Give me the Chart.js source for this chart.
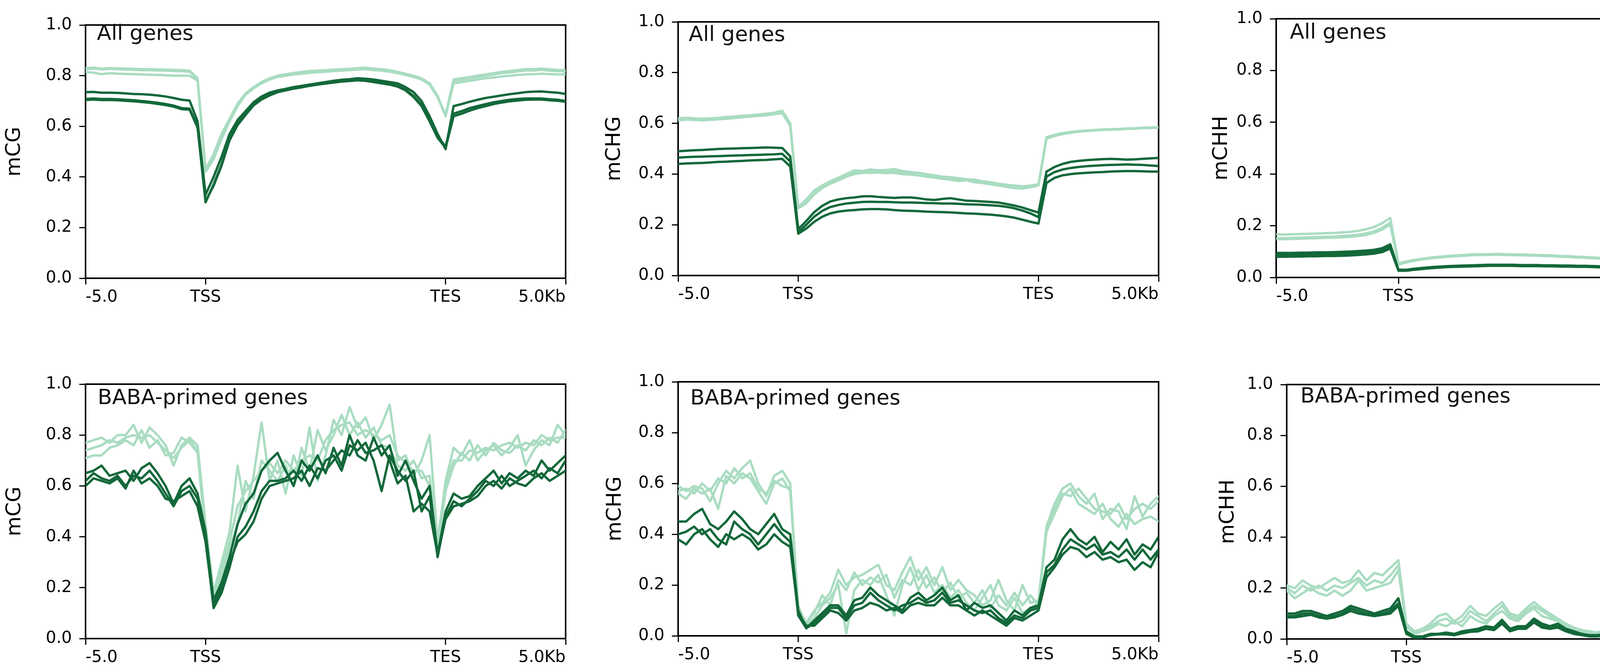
<!DOCTYPE html>
<html><head><meta charset="utf-8">
<script src="https://cdn.jsdelivr.net/npm/chart.js@4.4.1/dist/chart.umd.min.js"></script>
<style>
html,body{margin:0;padding:0;background:#fff;}
#fig{position:relative;width:4550px;height:1717px;overflow:hidden;background:#fff;}
#fig canvas{position:absolute;}
.lab{position:absolute;font-family:'DejaVu Sans',sans-serif;font-size:54px;line-height:1;color:#111;white-space:nowrap;}
.leg{position:absolute;height:6px;width:99px;}
</style></head><body><div id="fig"></div>
<script>
// ---------- axis labels ----------
const xTickPos = [0, 25, 75, 100];
const xTickLabels = ['-5.0', 'TSS', 'TES', '5.0Kb'];
const seriesNames = ['BABA', 'CTR'];
const yLabels = ['mCG', 'mCHG', 'mCHH', 'mCG', 'mCHG', 'mCHH'];
const panelTitles = ['All genes', 'All genes', 'All genes', 'BABA-primed genes', 'BABA-primed genes', 'BABA-primed genes'];

// ---------- data: 61 bins (-5kb .. TSS .. scaled body .. TES .. +5kb) ----------
// Top-left: mCG, all genes
const mcgAllCTR1 = [0.830,0.832,0.828,0.830,0.829,0.828,0.827,0.826,0.826,0.825,0.824,0.823,0.822,0.820,0.790,0.430,0.490,0.570,0.630,0.690,0.730,0.755,0.775,0.790,0.800,0.806,0.811,0.815,0.818,0.820,0.822,0.824,0.826,0.827,0.830,0.832,0.828,0.826,0.822,0.815,0.808,0.800,0.790,0.770,0.720,0.645,0.785,0.790,0.795,0.800,0.805,0.810,0.815,0.818,0.822,0.826,0.826,0.828,0.825,0.823,0.822];
const mcgAllCTR2 = [0.815,0.812,0.806,0.810,0.808,0.807,0.806,0.805,0.804,0.803,0.802,0.800,0.800,0.800,0.780,0.420,0.470,0.550,0.620,0.680,0.725,0.750,0.770,0.785,0.795,0.800,0.805,0.808,0.811,0.814,0.816,0.818,0.820,0.822,0.824,0.826,0.822,0.820,0.816,0.810,0.803,0.795,0.785,0.765,0.715,0.640,0.770,0.775,0.780,0.785,0.790,0.793,0.797,0.800,0.803,0.805,0.806,0.808,0.806,0.805,0.805];
const mcgAllCTR3 = [0.826,0.828,0.825,0.827,0.826,0.824,0.823,0.822,0.822,0.821,0.820,0.819,0.818,0.816,0.786,0.425,0.485,0.565,0.626,0.686,0.727,0.752,0.772,0.787,0.797,0.803,0.808,0.812,0.815,0.817,0.819,0.821,0.823,0.824,0.827,0.829,0.825,0.823,0.819,0.812,0.805,0.797,0.787,0.767,0.717,0.642,0.780,0.785,0.790,0.795,0.800,0.805,0.810,0.813,0.817,0.821,0.821,0.823,0.820,0.818,0.817];
const mcgAllBABA1 = [0.735,0.736,0.733,0.733,0.732,0.730,0.728,0.727,0.725,0.722,0.718,0.712,0.705,0.702,0.620,0.330,0.400,0.480,0.570,0.625,0.660,0.695,0.718,0.733,0.742,0.748,0.755,0.760,0.765,0.770,0.775,0.780,0.784,0.786,0.790,0.788,0.785,0.780,0.775,0.770,0.755,0.735,0.700,0.640,0.570,0.510,0.680,0.688,0.697,0.705,0.712,0.717,0.722,0.727,0.731,0.735,0.737,0.738,0.735,0.733,0.728];
const mcgAllBABA2 = [0.708,0.710,0.708,0.708,0.707,0.705,0.703,0.700,0.697,0.693,0.688,0.682,0.672,0.670,0.600,0.300,0.370,0.450,0.550,0.610,0.650,0.688,0.710,0.726,0.738,0.745,0.752,0.757,0.763,0.768,0.772,0.776,0.780,0.782,0.785,0.783,0.778,0.773,0.768,0.760,0.745,0.720,0.685,0.625,0.560,0.520,0.650,0.660,0.672,0.680,0.688,0.695,0.700,0.705,0.708,0.710,0.710,0.710,0.707,0.705,0.700];
const mcgAllBABA3 = [0.704,0.706,0.704,0.704,0.703,0.701,0.699,0.696,0.693,0.689,0.684,0.678,0.668,0.666,0.595,0.305,0.365,0.445,0.545,0.605,0.645,0.683,0.706,0.722,0.735,0.742,0.749,0.754,0.760,0.765,0.769,0.773,0.777,0.779,0.782,0.780,0.775,0.770,0.765,0.757,0.742,0.716,0.680,0.620,0.555,0.515,0.640,0.650,0.662,0.672,0.680,0.688,0.694,0.699,0.702,0.705,0.706,0.706,0.703,0.701,0.697];

// Top-middle: mCHG, all genes
const mchgAllCTR1 = [0.620,0.622,0.620,0.618,0.620,0.622,0.625,0.627,0.630,0.632,0.635,0.638,0.642,0.650,0.600,0.270,0.300,0.335,0.355,0.372,0.385,0.400,0.415,0.412,0.418,0.415,0.416,0.420,0.412,0.408,0.405,0.400,0.395,0.390,0.388,0.384,0.380,0.378,0.372,0.368,0.362,0.358,0.355,0.352,0.355,0.360,0.545,0.555,0.562,0.566,0.570,0.572,0.574,0.576,0.577,0.578,0.580,0.581,0.583,0.584,0.585];
const mchgAllCTR2 = [0.612,0.615,0.614,0.612,0.614,0.616,0.618,0.621,0.624,0.627,0.630,0.632,0.636,0.640,0.590,0.265,0.285,0.320,0.345,0.362,0.375,0.390,0.400,0.405,0.405,0.406,0.404,0.405,0.400,0.398,0.395,0.390,0.386,0.382,0.378,0.372,0.376,0.368,0.365,0.360,0.355,0.350,0.345,0.343,0.348,0.355,0.540,0.550,0.558,0.563,0.567,0.570,0.572,0.574,0.575,0.576,0.578,0.579,0.581,0.582,0.583];
const mchgAllCTR3 = [0.617,0.619,0.617,0.615,0.617,0.619,0.622,0.624,0.627,0.629,0.632,0.635,0.639,0.647,0.597,0.268,0.296,0.330,0.350,0.367,0.380,0.395,0.408,0.408,0.412,0.410,0.410,0.413,0.406,0.403,0.400,0.395,0.390,0.386,0.383,0.378,0.378,0.373,0.368,0.364,0.358,0.354,0.350,0.347,0.351,0.357,0.543,0.553,0.560,0.564,0.568,0.571,0.573,0.575,0.576,0.577,0.579,0.580,0.582,0.583,0.584];
const mchgAllBABA1 = [0.490,0.492,0.494,0.495,0.497,0.499,0.500,0.501,0.502,0.503,0.504,0.505,0.504,0.503,0.470,0.183,0.215,0.250,0.275,0.292,0.300,0.305,0.308,0.312,0.313,0.310,0.308,0.306,0.308,0.308,0.305,0.300,0.298,0.302,0.305,0.300,0.295,0.294,0.292,0.290,0.288,0.282,0.276,0.268,0.258,0.248,0.410,0.428,0.440,0.448,0.452,0.455,0.457,0.459,0.460,0.459,0.457,0.458,0.460,0.462,0.464];
const mchgAllBABA2 = [0.465,0.467,0.468,0.469,0.470,0.471,0.472,0.473,0.474,0.475,0.476,0.477,0.478,0.480,0.450,0.170,0.200,0.232,0.255,0.270,0.278,0.284,0.287,0.290,0.291,0.290,0.290,0.289,0.288,0.288,0.287,0.286,0.285,0.284,0.284,0.283,0.281,0.280,0.279,0.277,0.275,0.271,0.265,0.256,0.245,0.230,0.390,0.408,0.418,0.424,0.428,0.431,0.433,0.435,0.436,0.437,0.438,0.437,0.436,0.434,0.432];
const mchgAllBABA3 = [0.440,0.442,0.443,0.444,0.446,0.448,0.449,0.451,0.452,0.454,0.455,0.456,0.458,0.460,0.430,0.165,0.185,0.212,0.232,0.245,0.252,0.256,0.258,0.261,0.262,0.262,0.261,0.258,0.256,0.255,0.254,0.252,0.251,0.250,0.249,0.247,0.245,0.244,0.242,0.240,0.237,0.233,0.228,0.220,0.212,0.205,0.365,0.385,0.395,0.400,0.403,0.405,0.407,0.408,0.410,0.411,0.412,0.412,0.411,0.410,0.410];

// Top-right: mCHH, all genes
const mchhAllCTR1 = [0.167,0.166,0.167,0.168,0.169,0.170,0.171,0.172,0.174,0.176,0.180,0.186,0.195,0.210,0.230,0.055,0.062,0.068,0.073,0.077,0.080,0.083,0.085,0.087,0.089,0.090,0.090,0.091,0.090,0.089,0.089,0.088,0.087,0.086,0.085,0.083,0.082,0.080,0.079,0.077,0.075,0.073,0.068,0.065,0.062,0.060,0.168,0.168,0.165,0.162,0.159,0.156,0.154,0.152,0.151,0.150,0.150,0.150,0.150,0.151,0.152];
const mchhAllCTR2 = [0.148,0.148,0.149,0.150,0.151,0.152,0.153,0.154,0.155,0.157,0.160,0.164,0.172,0.185,0.205,0.050,0.058,0.065,0.070,0.074,0.077,0.080,0.082,0.084,0.086,0.087,0.087,0.088,0.087,0.086,0.086,0.085,0.084,0.083,0.082,0.080,0.079,0.077,0.076,0.074,0.072,0.070,0.066,0.063,0.060,0.058,0.148,0.150,0.150,0.148,0.146,0.144,0.142,0.141,0.140,0.139,0.139,0.139,0.140,0.140,0.141];
const mchhAllCTR3 = [0.152,0.152,0.153,0.154,0.155,0.156,0.157,0.158,0.160,0.162,0.165,0.170,0.178,0.192,0.212,0.052,0.060,0.066,0.071,0.075,0.078,0.081,0.083,0.085,0.087,0.088,0.088,0.089,0.088,0.087,0.087,0.086,0.085,0.084,0.083,0.081,0.080,0.078,0.077,0.075,0.073,0.071,0.067,0.064,0.061,0.059,0.152,0.153,0.152,0.150,0.148,0.146,0.144,0.143,0.142,0.141,0.141,0.141,0.142,0.142,0.143];
const mchhAllBABA1 = [0.095,0.095,0.095,0.096,0.096,0.097,0.097,0.098,0.099,0.100,0.102,0.104,0.107,0.113,0.128,0.030,0.030,0.034,0.037,0.040,0.042,0.044,0.045,0.046,0.047,0.048,0.049,0.049,0.049,0.049,0.048,0.048,0.048,0.047,0.047,0.046,0.046,0.045,0.045,0.044,0.043,0.042,0.041,0.039,0.037,0.035,0.088,0.090,0.090,0.089,0.089,0.088,0.088,0.088,0.088,0.088,0.087,0.087,0.087,0.088,0.088];
const mchhAllBABA2 = [0.088,0.088,0.088,0.089,0.089,0.090,0.090,0.091,0.092,0.093,0.095,0.097,0.100,0.106,0.120,0.028,0.028,0.032,0.035,0.038,0.040,0.042,0.043,0.044,0.045,0.046,0.047,0.047,0.047,0.047,0.046,0.046,0.046,0.045,0.045,0.044,0.044,0.043,0.043,0.042,0.041,0.040,0.039,0.037,0.035,0.033,0.082,0.084,0.084,0.083,0.083,0.082,0.082,0.082,0.082,0.081,0.081,0.080,0.080,0.081,0.081];
const mchhAllBABA3 = [0.080,0.080,0.081,0.081,0.082,0.082,0.083,0.083,0.084,0.085,0.087,0.089,0.092,0.098,0.112,0.026,0.026,0.030,0.033,0.036,0.038,0.040,0.041,0.042,0.043,0.044,0.045,0.045,0.045,0.045,0.044,0.044,0.044,0.043,0.043,0.042,0.042,0.041,0.041,0.040,0.039,0.038,0.037,0.035,0.033,0.031,0.075,0.077,0.077,0.076,0.076,0.075,0.075,0.075,0.075,0.074,0.074,0.073,0.073,0.073,0.072];

// Bottom-left: mCG, BABA-primed genes
const mcgPrimCTR1 = [0.77,0.78,0.79,0.77,0.80,0.80,0.84,0.77,0.83,0.80,0.76,0.68,0.76,0.79,0.76,0.45,0.18,0.30,0.42,0.68,0.50,0.64,0.85,0.62,0.70,0.57,0.72,0.64,0.83,0.62,0.72,0.86,0.80,0.91,0.83,0.87,0.78,0.84,0.92,0.70,0.72,0.64,0.70,0.80,0.38,0.62,0.75,0.72,0.78,0.70,0.74,0.76,0.72,0.75,0.80,0.68,0.74,0.78,0.76,0.84,0.80];
const mcgPrimCTR2 = [0.71,0.72,0.72,0.75,0.76,0.78,0.76,0.82,0.75,0.78,0.72,0.73,0.79,0.77,0.73,0.40,0.16,0.24,0.35,0.45,0.62,0.55,0.70,0.66,0.62,0.68,0.60,0.75,0.66,0.82,0.74,0.80,0.88,0.80,0.85,0.79,0.83,0.76,0.75,0.68,0.66,0.70,0.63,0.64,0.36,0.58,0.68,0.73,0.70,0.76,0.72,0.77,0.74,0.73,0.76,0.74,0.78,0.76,0.79,0.77,0.82];
const mcgPrimCTR3 = [0.74,0.75,0.76,0.78,0.77,0.79,0.80,0.79,0.80,0.77,0.74,0.71,0.75,0.78,0.74,0.42,0.17,0.27,0.38,0.52,0.58,0.62,0.66,0.69,0.65,0.70,0.66,0.70,0.72,0.70,0.78,0.82,0.84,0.85,0.80,0.82,0.80,0.78,0.80,0.72,0.69,0.66,0.66,0.60,0.37,0.60,0.70,0.70,0.74,0.73,0.75,0.74,0.76,0.77,0.75,0.77,0.76,0.80,0.78,0.79,0.79];
const mcgPrimBABA1 = [0.65,0.66,0.68,0.64,0.65,0.66,0.62,0.67,0.69,0.65,0.60,0.53,0.60,0.63,0.57,0.42,0.15,0.22,0.32,0.45,0.53,0.57,0.66,0.70,0.73,0.66,0.60,0.70,0.66,0.72,0.65,0.75,0.68,0.80,0.72,0.70,0.79,0.72,0.76,0.64,0.70,0.62,0.55,0.60,0.33,0.50,0.57,0.55,0.56,0.60,0.63,0.66,0.61,0.65,0.63,0.66,0.64,0.70,0.66,0.69,0.72];
const mcgPrimBABA2 = [0.62,0.65,0.63,0.62,0.64,0.60,0.64,0.63,0.66,0.62,0.57,0.52,0.58,0.60,0.55,0.40,0.12,0.18,0.28,0.40,0.44,0.50,0.58,0.62,0.62,0.63,0.66,0.62,0.68,0.63,0.70,0.72,0.66,0.76,0.74,0.77,0.70,0.58,0.72,0.66,0.62,0.66,0.50,0.56,0.32,0.48,0.54,0.52,0.55,0.58,0.62,0.60,0.64,0.60,0.62,0.64,0.66,0.63,0.67,0.65,0.70];
const mcgPrimBABA3 = [0.60,0.63,0.62,0.61,0.63,0.59,0.66,0.61,0.63,0.60,0.55,0.54,0.56,0.58,0.52,0.38,0.13,0.20,0.30,0.38,0.41,0.46,0.55,0.60,0.61,0.62,0.63,0.66,0.60,0.67,0.66,0.70,0.74,0.72,0.78,0.73,0.74,0.76,0.70,0.61,0.64,0.50,0.53,0.50,0.33,0.47,0.52,0.53,0.54,0.56,0.60,0.62,0.59,0.63,0.61,0.60,0.63,0.65,0.62,0.64,0.66];

// Bottom-middle: mCHG, BABA-primed genes
const mchgPrimCTR1 = [0.59,0.57,0.59,0.58,0.53,0.60,0.65,0.62,0.66,0.69,0.60,0.55,0.63,0.65,0.60,0.10,0.05,0.10,0.13,0.17,0.26,0.20,0.23,0.24,0.26,0.28,0.20,0.18,0.25,0.31,0.22,0.27,0.20,0.27,0.18,0.22,0.18,0.16,0.12,0.14,0.22,0.14,0.10,0.20,0.13,0.14,0.43,0.52,0.58,0.60,0.55,0.52,0.56,0.46,0.50,0.49,0.42,0.55,0.47,0.52,0.55];
const mchgPrimCTR2 = [0.56,0.54,0.58,0.56,0.58,0.50,0.63,0.60,0.64,0.62,0.57,0.52,0.60,0.62,0.57,0.12,0.04,0.07,0.12,0.15,0.20,0.01,0.18,0.22,0.20,0.24,0.16,0.08,0.20,0.27,0.18,0.24,0.17,0.20,0.15,0.18,0.13,0.10,0.15,0.20,0.12,0.10,0.15,0.09,0.11,0.13,0.41,0.48,0.55,0.58,0.52,0.50,0.48,0.52,0.46,0.43,0.48,0.44,0.46,0.47,0.45];
const mchgPrimCTR3 = [0.57,0.58,0.56,0.60,0.57,0.62,0.60,0.66,0.62,0.64,0.58,0.56,0.61,0.59,0.58,0.11,0.05,0.09,0.16,0.12,0.22,0.18,0.25,0.20,0.23,0.21,0.24,0.15,0.22,0.20,0.26,0.19,0.23,0.17,0.21,0.15,0.17,0.13,0.18,0.11,0.16,0.12,0.17,0.12,0.16,0.12,0.42,0.50,0.56,0.55,0.58,0.54,0.50,0.49,0.48,0.52,0.46,0.50,0.52,0.50,0.53];
const mchgPrimBABA1 = [0.45,0.45,0.48,0.50,0.44,0.42,0.45,0.49,0.46,0.42,0.40,0.44,0.48,0.42,0.40,0.10,0.03,0.06,0.09,0.12,0.12,0.08,0.14,0.15,0.19,0.16,0.14,0.12,0.10,0.15,0.17,0.14,0.16,0.19,0.14,0.16,0.10,0.13,0.11,0.12,0.09,0.06,0.10,0.08,0.11,0.12,0.27,0.30,0.38,0.42,0.38,0.36,0.39,0.33,0.37,0.34,0.38,0.32,0.36,0.34,0.39];
const mchgPrimBABA2 = [0.40,0.41,0.43,0.40,0.42,0.38,0.36,0.45,0.42,0.40,0.36,0.40,0.44,0.40,0.37,0.08,0.03,0.05,0.08,0.11,0.11,0.07,0.12,0.13,0.17,0.14,0.12,0.10,0.12,0.13,0.15,0.13,0.14,0.17,0.13,0.14,0.12,0.10,0.09,0.10,0.07,0.05,0.08,0.07,0.10,0.11,0.25,0.28,0.34,0.38,0.36,0.34,0.36,0.32,0.33,0.31,0.34,0.30,0.34,0.30,0.34];
const mchgPrimBABA3 = [0.38,0.36,0.40,0.42,0.38,0.35,0.40,0.38,0.40,0.38,0.34,0.36,0.40,0.37,0.35,0.09,0.04,0.04,0.07,0.10,0.09,0.06,0.10,0.11,0.13,0.12,0.10,0.11,0.09,0.12,0.13,0.12,0.12,0.15,0.12,0.12,0.10,0.08,0.10,0.08,0.06,0.04,0.07,0.06,0.08,0.10,0.23,0.27,0.32,0.35,0.34,0.31,0.33,0.30,0.31,0.29,0.30,0.26,0.29,0.27,0.33];

// Bottom-right: mCHH, BABA-primed genes
const mchhPrimCTR1 = [0.21,0.20,0.23,0.21,0.20,0.22,0.24,0.22,0.23,0.27,0.23,0.26,0.25,0.28,0.31,0.06,0.03,0.04,0.06,0.09,0.10,0.07,0.09,0.13,0.10,0.09,0.12,0.145,0.10,0.09,0.12,0.145,0.12,0.10,0.08,0.06,0.045,0.035,0.03,0.025,0.04,0.08,0.11,0.07,0.06,0.06,0.20,0.24,0.21,0.20,0.22,0.19,0.20,0.18,0.17,0.15,0.17,0.17,0.16,0.17,0.21];
const mchhPrimCTR2 = [0.19,0.16,0.18,0.20,0.18,0.17,0.19,0.17,0.19,0.23,0.19,0.20,0.21,0.22,0.27,0.05,0.02,0.03,0.04,0.06,0.05,0.07,0.05,0.09,0.07,0.06,0.09,0.11,0.08,0.07,0.10,0.12,0.09,0.08,0.07,0.05,0.04,0.03,0.025,0.02,0.03,0.05,0.07,0.06,0.05,0.05,0.17,0.20,0.18,0.19,0.17,0.18,0.16,0.15,0.16,0.13,0.15,0.15,0.16,0.15,0.16];
const mchhPrimCTR3 = [0.20,0.18,0.21,0.19,0.21,0.19,0.21,0.20,0.22,0.24,0.21,0.23,0.22,0.25,0.29,0.05,0.025,0.035,0.05,0.07,0.08,0.06,0.07,0.11,0.09,0.07,0.10,0.13,0.09,0.08,0.11,0.13,0.11,0.09,0.075,0.055,0.04,0.03,0.028,0.022,0.035,0.06,0.09,0.065,0.055,0.055,0.18,0.22,0.20,0.21,0.19,0.20,0.18,0.17,0.165,0.14,0.16,0.16,0.165,0.16,0.18];
const mchhPrimBABA1 = [0.10,0.10,0.11,0.11,0.10,0.09,0.10,0.11,0.13,0.12,0.11,0.10,0.11,0.12,0.16,0.03,0.01,0.01,0.02,0.02,0.025,0.02,0.03,0.035,0.04,0.05,0.045,0.075,0.04,0.05,0.05,0.08,0.06,0.05,0.06,0.04,0.03,0.02,0.015,0.015,0.02,0.02,0.02,0.025,0.025,0.03,0.08,0.09,0.10,0.09,0.10,0.095,0.09,0.085,0.08,0.075,0.07,0.07,0.10,0.065,0.12];
const mchhPrimBABA2 = [0.09,0.09,0.10,0.10,0.09,0.085,0.09,0.10,0.12,0.11,0.10,0.095,0.10,0.11,0.14,0.025,0.01,0.008,0.018,0.02,0.02,0.018,0.025,0.03,0.035,0.045,0.04,0.065,0.035,0.045,0.045,0.07,0.05,0.045,0.05,0.035,0.025,0.02,0.012,0.012,0.018,0.02,0.018,0.02,0.022,0.028,0.075,0.085,0.095,0.085,0.09,0.09,0.085,0.08,0.075,0.07,0.068,0.065,0.09,0.06,0.09];
const mchhPrimBABA3 = [0.085,0.085,0.09,0.095,0.085,0.08,0.085,0.095,0.11,0.10,0.095,0.09,0.095,0.10,0.13,0.02,0.005,0.005,0.015,0.018,0.018,0.015,0.022,0.028,0.03,0.04,0.035,0.06,0.03,0.04,0.04,0.065,0.045,0.04,0.045,0.03,0.02,0.015,0.01,0.01,0.015,0.018,0.015,0.018,0.02,0.025,0.07,0.08,0.09,0.08,0.085,0.085,0.08,0.075,0.07,0.068,0.065,0.062,0.085,0.058,0.085];

// ---------- styling / layout ----------
const BABA_COLOR = '#13683a';
const CTR_COLOR = '#a9dcc1';
const FONT = "'DejaVu Sans', sans-serif";

const panels = [
  {left:219,  top:40,  right:1448, bottom:712,  titlePad:2,  txtDx:29, txtTop:57,  baba:[mcgAllBABA1,mcgAllBABA2,mcgAllBABA3], ctr:[mcgAllCTR1,mcgAllCTR2,mcgAllCTR3]},
  {left:1736, top:32,  right:2966, bottom:705,  titlePad:21, txtDx:27, txtTop:60,  baba:[mchgAllBABA1,mchgAllBABA2,mchgAllBABA3], ctr:[mchgAllCTR1,mchgAllCTR2,mchgAllCTR3]},
  {left:3267, top:24,  right:4519, bottom:710,  titlePad:44, txtDx:35, txtTop:54,  baba:[mchhAllBABA1,mchhAllBABA2,mchhAllBABA3], ctr:[mchhAllCTR1,mchhAllCTR2,mchhAllCTR3], legend:true},
  {left:219,  top:959, right:1448, bottom:1634, titlePad:3,  txtDx:31, txtTop:989, baba:[mcgPrimBABA1,mcgPrimBABA2,mcgPrimBABA3], ctr:[mcgPrimCTR1,mcgPrimCTR2,mcgPrimCTR3]},
  {left:1736, top:953, right:2966, bottom:1627, titlePad:23, txtDx:31, txtTop:990, baba:[mchgPrimBABA1,mchgPrimBABA2,mchgPrimBABA3], ctr:[mchgPrimCTR1,mchgPrimCTR2,mchgPrimCTR3]},
  {left:3294, top:960, right:4519, bottom:1635, titlePad:34, txtDx:35, txtTop:985, baba:[mchhPrimBABA1,mchhPrimBABA2,mchhPrimBABA3], ctr:[mchhPrimCTR1,mchhPrimCTR2,mchhPrimCTR3]}
];

const fig = document.getElementById('fig');
const YW = 210, PADT = 20, PADR = 24, XH = 95;

function toPoints(arr) {
  return arr.map((v, i) => ({x: i * 100 / (arr.length - 1), y: v}));
}

panels.forEach((p, k) => {
  const cw = (p.right - p.left) + YW + PADR;
  const ch = (p.bottom - p.top) + PADT + XH;
  const cv = document.createElement('canvas');
  cv.width = cw; cv.height = ch;
  cv.style.left = (p.left - YW) + 'px';
  cv.style.top = (p.top - PADT) + 'px';
  cv.style.width = cw + 'px';
  cv.style.height = ch + 'px';
  fig.appendChild(cv);

  const datasets = [];
  p.baba.forEach(a => datasets.push({label: seriesNames[0], data: toPoints(a), xAxisID:'x', yAxisID:'y',
    borderColor: BABA_COLOR, borderWidth: 6, pointRadius: 0, tension: 0, fill: false,
    borderJoinStyle: 'round', borderCapStyle: 'round'}));
  p.ctr.forEach(a => datasets.push({label: seriesNames[1], data: toPoints(a), xAxisID:'x', yAxisID:'y',
    borderColor: CTR_COLOR, borderWidth: 6, pointRadius: 0, tension: 0, fill: false,
    borderJoinStyle: 'round', borderCapStyle: 'round'}));

  const spine = {display: true, color: '#000', width: 4};
  new Chart(cv, {
    type: 'line',
    data: {datasets},
    options: {
      responsive: false, animation: false, devicePixelRatio: 1,
      layout: {padding: {left: 0, top: PADT, right: PADR, bottom: 0}},
      plugins: {legend: {display: false}, tooltip: {enabled: false}},
      scales: {
        x: {
          type: 'linear', position: 'bottom', min: 0, max: 100,
          afterBuildTicks: s => { s.ticks = xTickPos.map(v => ({value: v})); },
          afterFit: s => { s.height = XH; },
          ticks: {autoSkip: false, maxRotation: 0, minRotation: 0, align: 'inner', padding: 8, color: '#000',
            font: {family: FONT, size: 42}, callback: v => xTickLabels[xTickPos.indexOf(v)]},
          grid: {drawOnChartArea: false, drawTicks: true, tickLength: 16, tickWidth: 3, tickColor: '#000'},
          border: spine
        },
        xTop: {
          type: 'linear', position: 'top', min: 0, max: 100,
          ticks: {display: false}, grid: {drawOnChartArea: false, drawTicks: false},
          border: spine, afterFit: s => { s.height = 0; }
        },
        y: {
          type: 'linear', position: 'left', min: 0, max: 1,
          afterFit: s => { s.width = YW; },
          ticks: {stepSize: 0.2, padding: 19, color: '#000', font: {family: FONT, size: 42},
            callback: v => Number(v).toFixed(1)},
          grid: {drawOnChartArea: false, drawTicks: true, tickLength: 16, tickWidth: 3, tickColor: '#000'},
          border: spine,
          title: {display: true, text: yLabels[k], color: '#000', font: {family: FONT, size: 52, lineHeight: 1},
            padding: {top: p.titlePad, bottom: 0}}
        },
        yRight: {
          type: 'linear', position: 'right', min: 0, max: 1,
          ticks: {display: false}, grid: {drawOnChartArea: false, drawTicks: false},
          border: spine, afterFit: s => { s.width = 0; }
        }
      }
    }
  });

  const t = document.createElement('div');
  t.className = 'lab';
  t.textContent = panelTitles[k];
  t.style.left = (p.left + p.txtDx) + 'px';
  t.style.top = p.txtTop + 'px';
  fig.appendChild(t);

  if (p.legend) {
    const entries = [[seriesNames[0], BABA_COLOR, 73, 54], [seriesNames[1], CTR_COLOR, 135, 114]];
    entries.forEach(([name, col, ly, ty]) => {
      const ln = document.createElement('div');
      ln.className = 'leg';
      ln.style.background = col;
      ln.style.left = '4205px';
      ln.style.top = (ly - 3) + 'px';
      fig.appendChild(ln);
      const tx = document.createElement('div');
      tx.className = 'lab';
      tx.textContent = name;
      tx.style.left = '4342px';
      tx.style.top = ty + 'px';
      fig.appendChild(tx);
    });
  }
});
</script></body></html>
